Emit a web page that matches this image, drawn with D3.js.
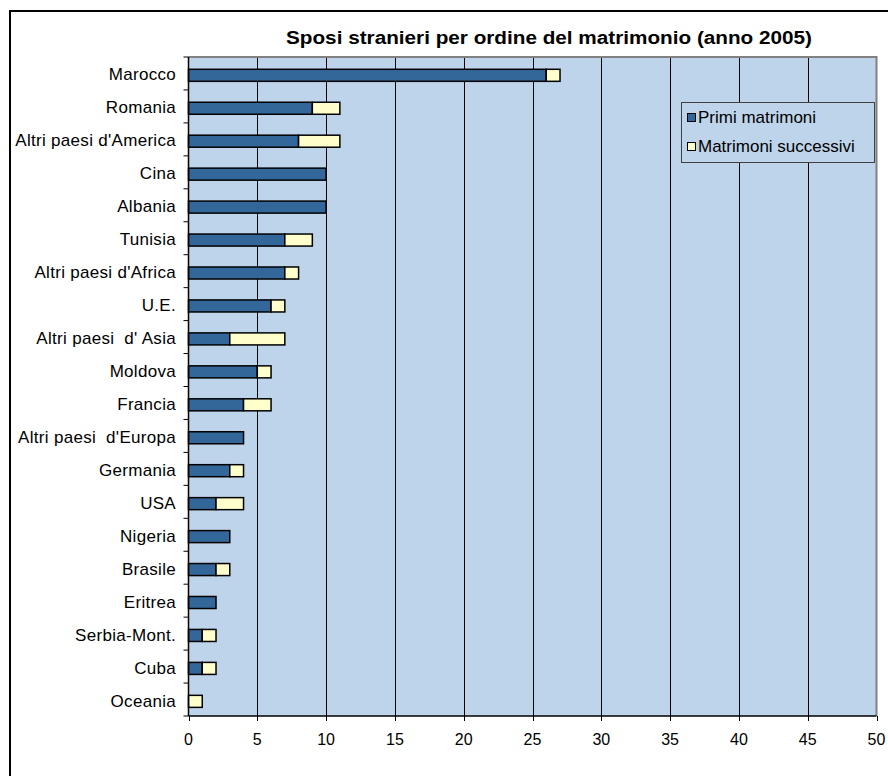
<!DOCTYPE html>
<html>
<head>
<meta charset="utf-8">
<script src="https://cdn.jsdelivr.net/npm/d3@7"></script>
<style>
  body { margin: 0; background: #fff; }
  svg text { font-family: "Liberation Sans", Arial, sans-serif; white-space: pre; }
</style>
</head>
<body>
<svg id="chart" width="888" height="776"></svg>
<script>
// paesi, dall'alto in basso
var paesi = ["Marocco", "Romania", "Altri paesi d'America", "Cina", "Albania", "Tunisia",
  "Altri paesi d'Africa", "U.E.", "Altri paesi  d' Asia", "Moldova", "Francia",
  "Altri paesi  d'Europa", "Germania", "USA", "Nigeria", "Brasile", "Eritrea",
  "Serbia-Mont.", "Cuba", "Oceania"];
var primi = [26, 9, 8, 10, 10, 7, 7, 6, 3, 5, 4, 4, 3, 2, 3, 2, 2, 1, 1, 0];
var successivi = [1, 2, 3, 0, 0, 2, 1, 1, 4, 1, 2, 0, 1, 2, 0, 1, 0, 1, 1, 1];
var xTicks = [0, 5, 10, 15, 20, 25, 30, 35, 40, 45, 50];
var serie = ["Primi matrimoni", "Matrimoni successivi"];
var colori = ["#336699", "#FFFFCC"];

var svg = d3.select("#chart");
var pLeft = 188.5, pRight = 876.5, pTop = 57, pBottom = 716;

// cornice esterna (tagliata a destra e in basso)
svg.append("path").attr("d", "M10,776 V11 H888").attr("fill", "none")
  .attr("stroke", "#000").attr("stroke-width", 2);

var x = d3.scaleLinear().domain([0, 50]).range([pLeft, pRight]);
var y = d3.scaleBand().domain(paesi).range([pTop, pBottom]);
var bw = y.bandwidth();

svg.append("rect").attr("x", pLeft).attr("y", pTop).attr("width", pRight - pLeft)
  .attr("height", pBottom - pTop).attr("fill", "#BED4EA");

// griglia
svg.append("g").selectAll("line").data(xTicks.slice(1, -1)).join("line")
  .attr("x1", function(d) { return Math.round(x(d)) + 0.5; })
  .attr("x2", function(d) { return Math.round(x(d)) + 0.5; })
  .attr("y1", pTop).attr("y2", pBottom)
  .attr("stroke", "#000").attr("stroke-width", 1);

// bordo grigio sopra e a destra
svg.append("path").attr("d", "M" + pLeft + "," + pTop + " H" + pRight + " V" + pBottom)
  .attr("fill", "none").attr("stroke", "#808080").attr("stroke-width", 2);

// barre
var righe = paesi.map(function(p, i) { return {p: p, a: primi[i], b: successivi[i]}; });
var g = svg.append("g");
righe.forEach(function(r) {
  var yy = y(r.p) + bw * 0.373, h = bw * 0.365;
  if (r.a > 0) g.append("rect").attr("x", x(0)).attr("y", yy)
    .attr("width", x(r.a) - x(0)).attr("height", h)
    .attr("fill", colori[0]).attr("stroke", "#000").attr("stroke-width", 1.5);
  if (r.b > 0) g.append("rect").attr("x", x(r.a)).attr("y", yy)
    .attr("width", x(r.a + r.b) - x(r.a)).attr("height", h)
    .attr("fill", colori[1]).attr("stroke", "#000").attr("stroke-width", 1.5);
});

// asse y
var yAxis = svg.append("g");
yAxis.append("line").attr("x1", pLeft).attr("x2", pLeft).attr("y1", pTop).attr("y2", pBottom)
  .attr("stroke", "#000").attr("stroke-width", 1.5);
var bordi = paesi.map(function(p) { return y(p); }).concat([pBottom]);
yAxis.selectAll("line.t").data(bordi).join("line").attr("class", "t")
  .attr("x1", pLeft - 5).attr("x2", pLeft).attr("y1", function(d) { return d; })
  .attr("y2", function(d) { return d; }).attr("stroke", "#000");
yAxis.selectAll("text").data(paesi).join("text")
  .attr("x", 176).attr("y", function(d) { return y(d) + bw / 2 + 7; })
  .attr("text-anchor", "end").attr("font-size", 17).attr("letter-spacing", 0.3)
  .attr("fill", "#000")
  .text(function(d) { return d; });

// asse x
var xAxis = svg.append("g");
xAxis.append("line").attr("x1", pLeft).attr("x2", pRight).attr("y1", pBottom).attr("y2", pBottom)
  .attr("stroke", "#000").attr("stroke-width", 1.5);
xAxis.selectAll("line.t").data(xTicks).join("line").attr("class", "t")
  .attr("x1", function(d) { return Math.round(x(d)) + 0.5; })
  .attr("x2", function(d) { return Math.round(x(d)) + 0.5; })
  .attr("y1", pBottom).attr("y2", pBottom + 5).attr("stroke", "#000");
xAxis.selectAll("text").data(xTicks).join("text")
  .attr("x", function(d) { return x(d); }).attr("y", 745)
  .attr("text-anchor", "middle").attr("font-size", 16).attr("fill", "#000")
  .text(function(d) { return d; });

// titolo
svg.append("text").attr("x", 549).attr("y", 43.5).attr("text-anchor", "middle")
  .attr("font-size", 18).attr("font-weight", "bold").attr("fill", "#000")
  .attr("textLength", 526).attr("lengthAdjust", "spacingAndGlyphs")
  .text("Sposi stranieri per ordine del matrimonio (anno 2005)");

// legenda
var leg = svg.append("g").attr("transform", "translate(681,102)");
leg.append("rect").attr("x", 0.5).attr("y", 0.5).attr("width", 193).attr("height", 60)
  .attr("fill", "#BED4EA").attr("stroke", "#404040");
serie.forEach(function(s, i) {
  leg.append("rect").attr("x", 6.5).attr("y", 11.5 + i * 29).attr("width", 8).attr("height", 8)
    .attr("fill", colori[i]).attr("stroke", "#000");
  leg.append("text").attr("x", 17).attr("y", 21 + i * 29).attr("font-size", 17)
    .attr("fill", "#000").text(s);
});
</script>
</body>
</html>
